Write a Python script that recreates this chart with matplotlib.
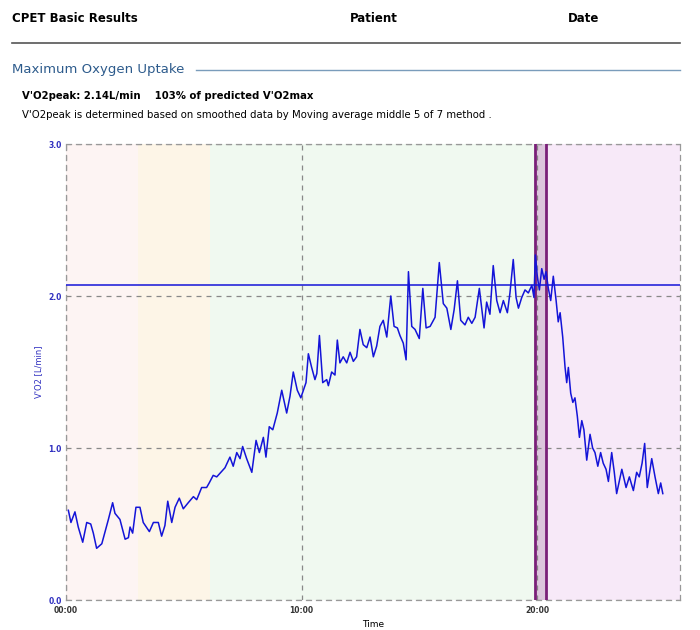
import matplotlib
matplotlib.use("Agg")
import matplotlib.pyplot as plt

# time in minutes, V'O2 in L/min
times = [0.10, 0.21, 0.38, 0.52, 0.71, 0.88, 1.05, 1.16, 1.30, 1.52,
         1.80, 1.98, 2.08, 2.29, 2.51, 2.65, 2.72, 2.83, 2.97, 3.14,
         3.28, 3.54, 3.71, 3.92, 4.06, 4.20, 4.32, 4.49, 4.63, 4.81,
         4.98, 5.19, 5.41, 5.55, 5.76, 5.97, 6.08, 6.25, 6.40, 6.75,
         6.96, 7.10, 7.25, 7.39, 7.50, 7.67, 7.89, 8.07, 8.21, 8.38,
         8.49, 8.63, 8.78, 8.97, 9.16, 9.37, 9.51, 9.65, 9.82, 9.97,
         10.08, 10.19, 10.29, 10.43, 10.57, 10.65, 10.76, 10.90, 11.07, 11.14,
         11.28, 11.42, 11.52, 11.63, 11.77, 11.92, 12.06, 12.20, 12.34, 12.48,
         12.62, 12.77, 12.91, 13.05, 13.19, 13.33, 13.47, 13.62, 13.79, 13.93,
         14.07, 14.18, 14.32, 14.44, 14.54, 14.68, 14.82, 15.00, 15.15, 15.29,
         15.46, 15.67, 15.85, 16.02, 16.17, 16.34, 16.48, 16.62, 16.76, 16.94,
         17.08, 17.23, 17.37, 17.55, 17.75, 17.86, 18.00, 18.14, 18.29, 18.43,
         18.57, 18.74, 18.85, 18.99, 19.11, 19.21, 19.35, 19.49, 19.63, 19.78,
         19.87, 19.93, 20.01, 20.10, 20.20, 20.30, 20.38, 20.48, 20.58, 20.69,
         20.81, 20.90, 20.98, 21.09, 21.19, 21.26, 21.33, 21.43, 21.52, 21.61,
         21.71, 21.80, 21.90, 21.99, 22.11, 22.25, 22.36, 22.46, 22.58, 22.70,
         22.81, 22.93, 23.03, 23.17, 23.28, 23.38, 23.60, 23.78, 23.92, 24.09,
         24.23, 24.34, 24.46, 24.57, 24.68, 24.87, 25.01, 25.15, 25.25, 25.34]
vo2 = [0.59, 0.51, 0.58, 0.48, 0.38, 0.51, 0.50, 0.44, 0.34, 0.37,
       0.53, 0.64, 0.57, 0.53, 0.40, 0.41, 0.48, 0.44, 0.61, 0.61,
       0.51, 0.45, 0.51, 0.51, 0.42, 0.49, 0.65, 0.51, 0.61, 0.67,
       0.60, 0.64, 0.68, 0.66, 0.74, 0.74, 0.77, 0.82, 0.81, 0.87,
       0.94, 0.88, 0.97, 0.93, 1.01, 0.93, 0.84, 1.05, 0.97, 1.07,
       0.94, 1.14, 1.12, 1.23, 1.38, 1.23, 1.34, 1.50, 1.38, 1.33,
       1.38, 1.43, 1.62, 1.53, 1.45, 1.49, 1.74, 1.43, 1.45, 1.41,
       1.50, 1.48, 1.71, 1.56, 1.60, 1.56, 1.63, 1.57, 1.60, 1.78,
       1.68, 1.66, 1.73, 1.60, 1.67, 1.80, 1.84, 1.73, 2.00, 1.80,
       1.79, 1.74, 1.69, 1.58, 2.16, 1.80, 1.78, 1.72, 2.05, 1.79,
       1.80, 1.86, 2.22, 1.95, 1.92, 1.78, 1.91, 2.10, 1.84, 1.81,
       1.86, 1.82, 1.86, 2.05, 1.79, 1.96, 1.88, 2.20, 1.97, 1.89,
       1.97, 1.89, 2.02, 2.24, 1.99, 1.92, 1.99, 2.04, 2.02, 2.07,
       1.99, 2.27, 2.13, 2.04, 2.18, 2.11, 2.16, 2.05, 1.97, 2.13,
       1.97, 1.83, 1.89, 1.73, 1.53, 1.43, 1.53, 1.36, 1.30, 1.33,
       1.21, 1.07, 1.18, 1.12, 0.92, 1.09, 1.00, 0.97, 0.88, 0.97,
       0.90, 0.86, 0.78, 0.97, 0.84, 0.70, 0.86, 0.74, 0.81, 0.72,
       0.84, 0.81, 0.90, 1.03, 0.74, 0.93, 0.81, 0.70, 0.77, 0.70]

vo2_line = 2.07
# phase bands (start, end, colour)
band_edges = [0.0, 3.06, 6.11, 19.91, 20.38, 26.07]
band_colors = ["#fdf4f3", "#fdf5e7", "#f0f9f0", "#dcc5dc", "#f7e9f8"]
marker_lines = [19.91, 20.38]
xticks = [0, 10, 20]
xtick_labels = ["00:00", "10:00", "20:00"]
yticks = [0.0, 1.0, 2.0, 3.0]

blue = "#1414d8"
fig = plt.figure(figsize=(7, 6.3), dpi=100)

# header
fig.text(12/700, 1-18/630, "CPET Basic Results", fontsize=8.5, fontweight="bold", va="center")
fig.text(350/700, 1-18/630, "Patient", fontsize=8.5, fontweight="bold", va="center")
fig.text(568/700, 1-18/630, "Date", fontsize=8.5, fontweight="bold", va="center")
fig.add_artist(plt.Line2D([12/700, 680/700], [1-43/630, 1-43/630], color="#555555", lw=1.2))
fig.text(12/700, 1-70/630, "Maximum Oxygen Uptake", fontsize=9.5, color="#2d5b8c", va="center")
fig.add_artist(plt.Line2D([196/700, 680/700], [1-70/630, 1-70/630], color="#7a9cbb", lw=1.0))
fig.text(22/700, 1-96/630, "V'O2peak: 2.14L/min    103% of predicted V'O2max",
         fontsize=7.3, fontweight="bold", va="center")
fig.text(22/700, 1-115/630,
         "V'O2peak is determined based on smoothed data by Moving average middle 5 of 7 method .",
         fontsize=7.3, va="center")

ax = fig.add_axes([66/700, 1-600/630, 614/700, 456/630])
for i, c in enumerate(band_colors):
    ax.axvspan(band_edges[i], band_edges[i+1], color=c, zorder=0, lw=0)
for x in marker_lines:
    ax.axvline(x, color="#7a1f78", lw=2, zorder=3)

ax.set_xlim(band_edges[0], band_edges[-1])
ax.set_ylim(0, 3.0)
ax.set_xticks(xticks)
ax.set_xticklabels(xtick_labels)
ax.set_yticks(yticks)
ax.set_yticklabels(["%.1f" % v for v in yticks])
ax.grid(True, color="#888888", linestyle=(0, (4, 4)), lw=0.9, zorder=1)
ax.set_axisbelow(True)
for s in ax.spines.values():
    s.set_linestyle((0, (4, 4)))
    s.set_color("#999999")
    s.set_linewidth(0.9)
ax.tick_params(axis="y", length=0, pad=3, labelsize=5.5)
ax.tick_params(axis="x", length=0, pad=4, labelsize=5.5)
for lbl in ax.get_yticklabels():
    lbl.set_color("#3030c0")
    lbl.set_fontweight("bold")
for lbl in ax.get_xticklabels():
    lbl.set_fontweight("bold")
    lbl.set_color("#333333")

ax.axhline(vo2_line, color=blue, lw=1.1, zorder=4)
ax.plot(times, vo2, color=blue, lw=1.1, zorder=5)

ax.set_ylabel("V'O2 [L/min]", color="#3030c0", fontsize=6)
ax.set_xlabel("Time", fontsize=6.5, labelpad=4)

fig.savefig("out.png", dpi=100)
